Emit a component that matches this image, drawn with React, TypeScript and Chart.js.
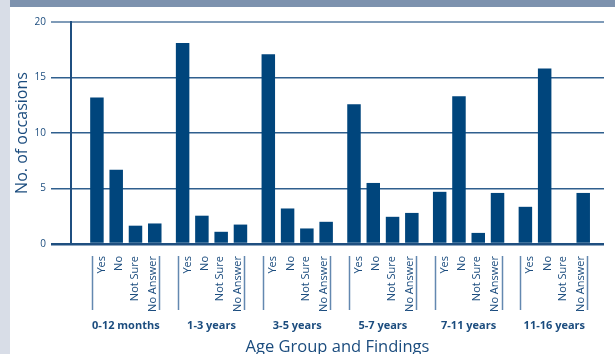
import { useEffect, useRef } from "react";
import { Chart, registerables } from "chart.js";

Chart.register(...registerables);

// Age groups and the four findings recorded for each
const groups = ["0-12 months", "1-3 years", "3-5 years", "5-7 years", "7-11 years", "11-16 years"];
const findings = ["Yes", "No", "Not Sure", "No Answer"];

// Number of occasions per age group, one array per finding
const yesValues = [13.2, 18.1, 17.1, 12.6, 4.7, 3.35];
const noValues = [6.7, 2.55, 3.2, 5.5, 13.3, 15.8];
const notSureValues = [1.65, 1.1, 1.4, 2.45, 1.0, 0];
const noAnswerValues = [1.85, 1.75, 2.0, 2.8, 4.6, 4.6];

const yTicks = [0, 5, 10, 15, 20];

const FONT = "'Open Sans', 'Noto Sans', sans-serif";
const BAR = "#00457c";
const TEXT = "#1b4c7e";

// x range shared by the bar, finding and group axes (group i sits at x = i)
const X_MIN = -0.64;
const X_MAX = 5.58;
// where each finding's label sits around its group centre, and the group brackets
const LABEL_OFFSETS = [-0.28, -0.08, 0.1, 0.31];
const BRACKET_OFFSET = 0.39;

type SubTick = { value: number; label: string; bracket: boolean };

const subTicks: SubTick[] = [];
groups.forEach((_, g) => {
  subTicks.push({ value: g - BRACKET_OFFSET, label: "", bracket: true });
  findings.forEach((f, k) => {
    subTicks.push({ value: g + LABEL_OFFSETS[k], label: f, bracket: false });
  });
  subTicks.push({ value: g + BRACKET_OFFSET, label: "", bracket: true });
});

const series = [yesValues, noValues, notSureValues, noAnswerValues];

export default function App() {
  const canvasRef = useRef<HTMLCanvasElement | null>(null);

  useEffect(() => {
    const canvas = canvasRef.current;
    if (!canvas) return;

    const chart = new Chart(canvas, {
      type: "bar",
      data: {
        datasets: series.map((vals, k) => ({
          label: findings[k],
          data: vals.map((v, g) => ({ x: g, y: v })),
          backgroundColor: BAR,
          borderWidth: 0,
          categoryPercentage: 0.9,
          barPercentage: 0.7,
        })),
      },
      options: {
        animation: false,
        responsive: false,
        maintainAspectRatio: false,
        layout: { padding: { top: 22, right: 11, left: 0, bottom: 0 } },
        plugins: {
          legend: { display: false },
          tooltip: { enabled: false },
        },
        scales: {
          x: {
            type: "linear",
            position: "bottom",
            display: false,
            offset: false,
            min: X_MIN,
            max: X_MAX,
            afterBuildTicks: (scale: any) => {
              scale.ticks = groups.map((_, i) => ({ value: i }));
            },
            grid: { offset: false },
          },
          xs: {
            type: "linear",
            position: "bottom",
            offset: false,
            min: X_MIN,
            max: X_MAX,
            weight: 0,
            afterBuildTicks: (scale: any) => {
              scale.ticks = subTicks.map((t) => ({ value: t.value }));
            },
            afterFit: (scale: any) => {
              scale.height = 67;
            },
            ticks: {
              autoSkip: false,
              minRotation: 90,
              maxRotation: 90,
              padding: -54,
              color: TEXT,
              font: { family: FONT, size: 11 },
              callback: (_v: any, i: number) => subTicks[i].label,
            },
            grid: {
              display: true,
              offset: false,
              drawOnChartArea: false,
              drawTicks: true,
              tickLength: 66,
              tickWidth: 1.5,
              tickBorderDash: [0, 12, 54, 200],
              tickColor: (ctx: any) =>
                subTicks[ctx.index] && subTicks[ctx.index].bracket ? "#6388b0" : "rgba(0,0,0,0)",
            },
            border: { display: false },
          },
          xg: {
            type: "linear",
            position: "bottom",
            offset: false,
            min: X_MIN,
            max: X_MAX,
            weight: 1,
            afterBuildTicks: (scale: any) => {
              scale.ticks = groups.map((_, i) => ({ value: i }));
            },
            afterFit: (scale: any) => {
              scale.height = 43;
            },
            ticks: {
              autoSkip: false,
              maxRotation: 0,
              minRotation: 0,
              padding: 0,
              color: TEXT,
              font: { family: FONT, size: 11, weight: "bold" },
              callback: (_v: any, i: number) => groups[i],
            },
            grid: { display: false, offset: false },
            border: { display: false },
            title: {
              display: true,
              text: "Age Group and Findings",
              color: TEXT,
              font: { family: FONT, size: 16.5 },
              padding: { top: 0, bottom: -3 },
            },
          },
          y: {
            min: 0,
            max: 20,
            afterBuildTicks: (scale: any) => {
              scale.ticks = yTicks.map((v) => ({ value: v }));
            },
            afterFit: (scale: any) => {
              scale.width = 71;
            },
            ticks: {
              color: TEXT,
              padding: 5,
              font: { family: FONT, size: 10 },
            },
            grid: {
              drawTicks: true,
              tickLength: 20,
              color: (ctx: any) => {
                const v = ctx.tick ? ctx.tick.value : 0;
                if (v === 20) return "#7f9bb8";
                if (v === 0) return "#1f4f80";
                return "#2f5f8e";
              },
              lineWidth: (ctx: any) => {
                const v = ctx.tick ? ctx.tick.value : 0;
                if (v === 0) return 2.5;
                if (v === 20) return 2;
                return 1.5;
              },
            },
            border: { display: true, color: "#1f4f80", width: 2 },
            title: {
              display: true,
              text: "No. of occasions",
              color: TEXT,
              font: { family: FONT, size: 16 },
              padding: { top: 13, bottom: 0 },
            },
          },
        },
      } as any,
    });

    return () => chart.destroy();
  }, []);

  return (
    <div
      style={{
        position: "fixed",
        left: 0,
        top: 0,
        width: 615,
        height: 354,
        background: "#ffffff",
        overflow: "hidden",
      }}
    >
      <div style={{ position: "absolute", left: 10, top: 0, width: 605, height: 7, background: "#7d92ae" }} />
      <div style={{ position: "absolute", left: 0, top: 0, width: 10, height: 354, background: "#d8dde7" }} />
      <canvas
        ref={canvasRef}
        width={615}
        height={354}
        style={{ position: "absolute", left: 0, top: 0, width: 615, height: 354 }}
      />
    </div>
  );
}
